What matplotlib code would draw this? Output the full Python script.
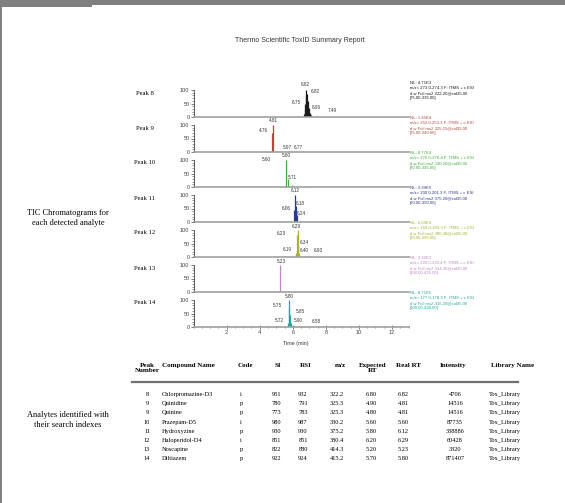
import matplotlib
matplotlib.use("Agg")
import matplotlib.pyplot as plt
from matplotlib.patches import Rectangle
from matplotlib.ticker import MultipleLocator, FixedLocator

# ---- chromatogram data: retention time (min) and relative abundance (%) ----
peak_names = ["Peak 8", "Peak 9", "Peak 10", "Peak 11", "Peak 12", "Peak 13", "Peak 14"]
peak_colors = ["#1a1a1a", "#b5473f", "#3cae3c", "#2e3a8c", "#a8b232", "#c084c8", "#26a69a"]
nl_values = ["NL: 4.71E3", "NL: 1.45E4", "NL: 8.77E4", "NL: 3.39E5",
             "NL: 6.04E4", "NL: 3.32E3", "NL: 8.71E5"]
scan_filters = [
    "m/z= 273.0-274.3 F: ITMS + c ESI", "m/z= 252.0-253.3 F: ITMS + c ESI",
    "m/z= 276.0-276.4 F: ITMS + c ESI", "m/z= 200.0-201.3 F: ITMS + c ESI",
    "m/z= 168.0-169.3 F: ITMS + c ESI", "m/z= 220.0-220.4 F: ITMS + c ESI",
    "m/z= 177.0-178.3 F: ITMS + c ESI",
]
ms2_lines = [
    "d w Full ms2 322.20@cid35.00", "d w Full ms2 325.15@cid35.00",
    "d w Full ms2 330.20@cid35.00", "d w Full ms2 375.20@cid35.00",
    "d w Full ms2 380.40@cid35.00", "d w Full ms2 414.30@cid35.00",
    "d w Full ms2 415.20@cid35.00",
]
mass_ranges = ["[75.00-335.00]", "[75.00-340.00]", "[80.00-345.00]", "[90.00-390.00]",
               "[90.00-395.00]", "[100.00-425.00]", "[100.00-430.00]"]

spike_rt = [
    [6.68, 6.72, 6.75, 6.79, 6.82, 6.86, 6.90, 6.96, 7.02, 7.10, 7.49],
    [4.76, 4.81],
    [5.50, 5.60, 5.71, 5.97, 6.77],
    [6.06, 6.12, 6.18, 6.24],
    [6.19, 6.23, 6.29, 6.34, 6.40, 6.93],
    [5.23],
    [5.72, 5.75, 5.80, 5.85, 5.90, 6.58],
]
spike_height = [
    [10, 30, 50, 80, 100, 85, 60, 35, 15, 6, 3],
    [70, 100],
    [5, 100, 30, 8, 4],
    [45, 100, 60, 25],
    [15, 80, 100, 45, 15, 3],
    [100],
    [15, 70, 100, 45, 15, 3],
]
rt_labels = [
    ["6.82", "6.82", "6.75", "6.96", "7.49"],
    ["4.81", "4.76"],
    ["5.97", "6.77", "5.60", "5.60", "5.71"],
    ["6.12", "6.06", "6.18", "6.24"],
    ["6.29", "6.23", "6.34", "6.19", "6.40", "6.93"],
    ["5.23"],
    ["5.80", "5.75", "5.85", "5.72", "5.90", "6.58"],
]
# label placement (x in min, y in %) - layout only
rt_label_xy = [
    [(6.77, 122), (7.35, 93), (6.20, 53), (7.40, 37), (8.37, 23)],
    [(4.82, 118), (4.20, 81)],
    [(5.65, 148), (6.35, 148), (4.42, 102), (5.63, 115), (5.98, 37)],
    [(6.13, 118), (5.58, 51), (6.44, 70), (6.54, 33)],
    [(6.24, 112), (5.28, 88), (6.68, 52), (5.65, 26), (6.68, 23), (7.53, 23)],
    [(5.28, 112)],
    [(5.78, 113), (5.05, 81), (6.44, 56), (5.17, 24), (6.32, 24), (7.40, 20)],
]

# ---- table data ----
tbl_header = ["Peak\nNumber", "Compound Name", "Code", "SI", "RSI", "m/z",
              "Expected\nRT", "Real RT", "Intensity", "Library Name"]
peak_number = ["8", "9", "9", "10", "11", "12", "13", "14"]
compound = ["Chlorpromazine-D3", "Quinidine", "Quinine", "Prazepam-D5",
            "Hydroxyzine", "Haloperidol-D4", "Noscapine", "Diltiazem"]
code = ["i", "p", "p", "i", "p", "i", "p", "p"]
si = ["951", "780", "773", "980", "930", "851", "822", "922"]
rsi = ["932", "791", "783", "987", "930", "851", "880", "924"]
mz = ["322.2", "325.3", "325.3", "330.2", "375.2", "380.4", "414.3", "415.2"]
expected_rt = ["6.80", "4.90", "4.80", "5.60", "5.80", "6.20", "5.20", "5.70"]
real_rt = ["6.82", "4.81", "4.81", "5.60", "6.12", "6.29", "5.23", "5.80"]
intensity = ["4706", "14516", "14516", "87735", "338886", "60428", "3320", "871407"]
library = ["Tox_Library"] * 8

SERIF = "Liberation Serif"
SANS = "Liberation Sans"
W, H = 565, 503

fig = plt.figure(figsize=(W / 100, H / 100), dpi=100)
fig.patch.set_facecolor("white")
page = fig.add_axes([0, 0, 1, 1])
page.set_xlim(0, W)
page.set_ylim(H, 0)
page.axis("off")

# page frame
page.add_patch(Rectangle((0, 0), W, 5, color="#808080", lw=0))
page.add_patch(Rectangle((0, 0), 92, 6.5, color="#808080", lw=0))
page.add_patch(Rectangle((0, 0), 1.5, H, color="#808080", lw=0))

page.text(300, 40, "Thermo Scientific ToxID Summary Report", ha="center", va="center",
          fontsize=5, family=SANS, color="#333333")

page.text(68, 218, "TIC Chromatograms for\neach detected analyte", ha="center", va="center",
          fontsize=6, family=SERIF, linespacing=1.3)
page.text(68, 420, "Analytes identified with\ntheir search indexes", ha="center", va="center",
          fontsize=6, family=SERIF, linespacing=1.3)

# ---- chromatogram panels ----
X0, X1 = 193.6, 408.5
PANEL_H = 35
for i in range(len(peak_names)):
    yb = 117 + PANEL_H * i
    ax = fig.add_axes([X0 / W, 1 - yb / H, (X1 - X0) / W, PANEL_H / H])
    ax.patch.set_alpha(0)
    ax.set_xlim(0, 13)
    ax.set_ylim(0, 100 * PANEL_H / 27)
    col = peak_colors[i]
    ax.vlines(spike_rt[i], 0, spike_height[i], color=col, lw=0.9)
    for txt, (lx, ly) in zip(rt_labels[i], rt_label_xy[i]):
        ax.text(lx, ly, txt, ha="center", va="center", fontsize=3.3, family=SANS,
                color="#333333", clip_on=False)

    for s in ("top", "right"):
        ax.spines[s].set_visible(False)
    ax.spines["left"].set_bounds(0, 100)
    ax.spines["left"].set_color("#444444")
    ax.spines["left"].set_linewidth(0.6)
    ax.spines["bottom"].set_color("#a0a0a0")
    ax.spines["bottom"].set_linewidth(1.2)
    ax.yaxis.set_major_locator(FixedLocator([0, 50, 100]))
    ax.yaxis.set_minor_locator(FixedLocator(range(0, 101, 10)))
    ax.tick_params(axis="y", which="major", length=2, width=0.5, labelsize=4, pad=1,
                   colors="#444444")
    ax.tick_params(axis="y", which="minor", length=1.2, width=0.4, colors="#444444")
    for lab in ax.get_yticklabels():
        lab.set_family(SANS)
    if i < len(peak_names) - 1:
        ax.tick_params(axis="x", which="both", bottom=False, labelbottom=False)
    else:
        ax.xaxis.set_major_locator(FixedLocator([2, 4, 6, 8, 10, 12]))
        ax.xaxis.set_minor_locator(MultipleLocator(0.5))
        ax.tick_params(axis="x", which="major", direction="inout", length=3, width=0.5,
                       labelsize=4, pad=1, colors="#444444")
        ax.tick_params(axis="x", which="minor", direction="inout", length=1.8, width=0.4,
                       colors="#444444")
        for lab in ax.get_xticklabels():
            lab.set_family(SANS)

    page.text(145, yb - 24, peak_names[i], ha="center", va="center", fontsize=4.8,
              family=SERIF)
    page.text(410, yb - 36, "\n".join([nl_values[i], scan_filters[i], ms2_lines[i],
                                      mass_ranges[i]]),
              ha="left", va="top", fontsize=3.1, family=SANS, color=col, linespacing=1.35)

page.text(296, 343, "Time (min)", ha="center", va="center", fontsize=3.8, family=SANS,
          color="#333333")

# ---- table ----
hdr_x = [147, 188, 245, 278, 306, 340, 373, 408, 453, 491]
hdr_ha = ["center"] * 9 + ["left"]
for txt, x, ha in zip(tbl_header, hdr_x, hdr_ha):
    page.text(x, 363, txt, ha=ha, va="top", fontsize=5, family=SERIF, weight="bold",
              linespacing=1.05)
page.plot([132, 518], [382, 382], color="#707070", lw=1.6)

cols = [peak_number, compound, code, si, rsi, mz, expected_rt, real_rt, intensity, library]
col_x = [147, 162, 241, 276, 303, 337, 371, 403, 455, 489]
col_ha = ["center", "left"] + ["center"] * 7 + ["left"]
for r in range(len(compound)):
    y = 394.5 + 9.2 * r
    for c, x, ha in zip(cols, col_x, col_ha):
        page.text(x, y, c[r], ha=ha, va="center", fontsize=4.6, family=SERIF)

fig.savefig("out.png", dpi=100)
